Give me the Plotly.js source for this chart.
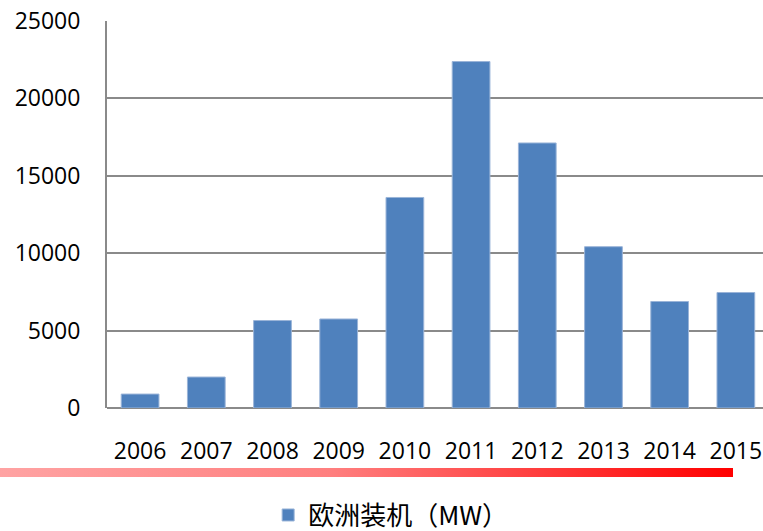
<!DOCTYPE html>
<html>
<head>
<meta charset="utf-8">
<script src="https://cdn.plot.ly/plotly-3.0.1.min.js"></script>
<style>
  html, body { margin: 0; padding: 0; background: #ffffff; }
  #wrap { position: relative; width: 763px; height: 531px; }
  #chart { width: 763px; height: 531px; }
  #band { position: absolute; left: 0px; top: 468px; width: 733px; height: 8.5px;
          background: linear-gradient(to right, #ffa3a3 0%, #ff7f7f 45%, #ff0000 100%); pointer-events: none; }
</style>
</head>
<body>
<div id="wrap">
  <div id="chart"></div>
  <div id="band"></div>
</div>
<script>
// Data
const years = ['2006', '2007', '2008', '2009', '2010', '2011', '2012', '2013', '2014', '2015'];
const europeInstalled = [900, 2000, 5650, 5750, 13600, 22380, 17120, 10420, 6880, 7460];
const seriesName = '欧洲装机（MW）';
const yTicks = [0, 5000, 10000, 15000, 20000, 25000];

const font = 'Open Sans, Liberation Sans, Arial, sans-serif';

const trace = {
  type: 'bar',
  x: years,
  y: europeInstalled,
  name: seriesName,
  width: 0.57,
  marker: { color: '#4f81bd', line: { color: '#9ab4d8', width: 1 } },
  showlegend: true,
  hoverinfo: 'x+y'
};

const layout = {
  width: 763,
  height: 531,
  margin: { l: 107, r: 0, t: 20.5, b: 123, pad: 0 },
  paper_bgcolor: '#ffffff',
  plot_bgcolor: '#ffffff',
  font: { family: font, color: '#000000', size: 22 },
  showlegend: true,
  legend: {
    orientation: 'h',
    xref: 'container', yref: 'container',
    x: 0.512, xanchor: 'center',
    y: 0.03, yanchor: 'middle',
    font: { family: 'Noto Sans CJK SC, sans-serif', size: 26, color: '#000000' },
    itemwidth: 30,
    bgcolor: 'rgba(0,0,0,0)'
  },
  xaxis: {
    type: 'category',
    range: [-0.5, 9.41],
    showgrid: false,
    zeroline: false,
    showline: false,
    ticks: '',
    ticklabelstandoff: 27,
    tickfont: { family: font, size: 23, color: '#000000' },
    fixedrange: true
  },
  yaxis: {
    range: [0, 25000],
    tickvals: yTicks,
    ticktext: yTicks.map(String),
    showgrid: true,
    gridcolor: '#8a8a8a',
    gridwidth: 2,
    zeroline: true,
    zerolinecolor: '#8a8a8a',
    zerolinewidth: 2,
    showline: true,
    linecolor: '#8a8a8a',
    linewidth: 2,
    ticks: '',
    ticklabelstandoff: 20,
    tickfont: { family: font, size: 23, color: '#000000' },
    fixedrange: true
  }
};

Plotly.newPlot('chart', [trace], layout, { displayModeBar: false, staticPlot: true });
</script>
</body>
</html>
